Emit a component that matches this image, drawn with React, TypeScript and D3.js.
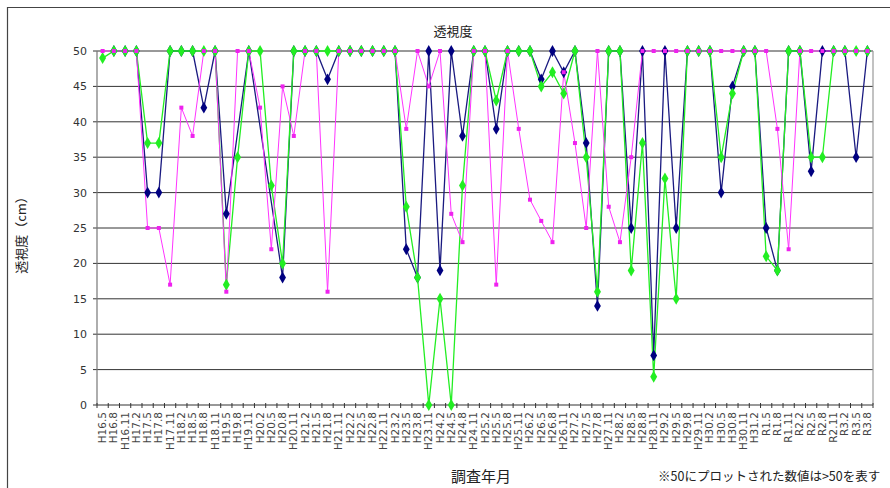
import React from "react";
import * as d3 from "d3";

const labels: string[] = [
  "H16.5","H16.8","H16.11","H17.2","H17.5","H17.8","H17.11","H18.2","H18.5","H18.8","H18.11",
  "H19.5","H19.8","H19.11","H20.2","H20.5","H20.8","H20.11","H21.2","H21.5","H21.8","H21.11",
  "H22.2","H22.5","H22.8","H22.11","H23.2","H23.5","H23.8","H23.11","H24.2","H24.5","H24.8","H24.11",
  "H25.2","H25.5","H25.8","H25.11","H26.2","H26.5","H26.8","H26.11","H27.2","H27.5","H27.8","H27.11",
  "H28.2","H28.5","H28.8","H28.11","H29.2","H29.5","H29.8","H29.11","H30.2","H30.5","H30.8","H30.11",
  "H31.2","R1.5","R1.8","R1.11","R2.2","R2.5","R2.8","R2.11","R3.2","R3.5","R3.8"
];

const navySeries: (number | null)[] = [
  null,50,50,50,30,30,50,50,50,42,50,27,null,50,null,null,18,50,50,50,46,50,50,50,50,50,50,22,18,50,
  19,50,38,50,50,39,50,50,50,46,50,47,50,37,14,50,50,25,50,7,50,25,50,50,50,30,45,50,50,25,19,50,50,33,50,50,50,35,50
];

const greenSeries: (number | null)[] = [
  49,50,50,50,37,37,50,50,50,50,50,17,35,50,50,31,20,50,50,50,50,50,50,50,50,50,50,28,18,0,
  15,0,31,50,50,43,50,50,50,45,47,44,50,35,16,50,50,19,37,4,32,15,50,50,50,35,44,50,50,21,19,50,50,35,35,50,50,50,50
];

const magentaSeries: (number | null)[] = [
  50,50,50,50,25,25,17,42,38,50,50,16,50,50,42,22,45,38,50,50,16,50,50,50,50,50,50,39,50,45,
  50,27,23,50,50,17,50,39,29,26,23,47,37,25,50,28,23,35,50,50,50,50,50,50,50,50,50,50,50,50,39,22,50,50,50,50,50,50,50
];

const yTicks: number[] = [0, 5, 10, 15, 20, 25, 30, 35, 40, 45, 50];

const W = 890;
const H = 488;
const left = 97;
const right = 873;
const top = 51;
const bottom = 405;

export default function App() {
  const idx = labels.map((_, i) => i);
  const x = d3.scaleBand<number>().domain(idx).range([left, right]).padding(0);
  const cx = (i: number) => (x(i) as number) + x.bandwidth() / 2;
  const y = d3.scaleLinear().domain([0, 50]).range([bottom, top]);

  const pts = (s: (number | null)[]) =>
    s.map((v, i) => ({ i, v })).filter((d) => d.v !== null) as { i: number; v: number }[];

  const line = d3
    .line<{ i: number; v: number }>()
    .x((d) => cx(d.i))
    .y((d) => y(d.v));

  const navy = pts(navySeries);
  const green = pts(greenSeries);
  const mag = pts(magentaSeries);

  const diamond = d3.symbol().type(d3.symbolDiamond).size(40)() as string;
  const diamondG = d3.symbol().type(d3.symbolDiamond).size(42)() as string;

  const font = "'Noto Sans CJK JP', 'Noto Sans', sans-serif";

  return (
    <svg
      width={W}
      height={H}
      style={{ position: "absolute", left: 0, top: 0, background: "#fff" }}
      fontFamily={font}
    >
      <rect x={0} y={0} width={W} height={H} fill="#fff" />
      {/* outer chart border */}
      <line x1={7.5} y1={7} x2={7.5} y2={H} stroke="#444" strokeWidth={1.2} />
      <line x1={7} y1={7.5} x2={W} y2={7.5} stroke="#444" strokeWidth={1.2} />

      {/* title */}
      <text x={453} y={36} fontSize={13} textAnchor="middle" fill="#222">透視度</text>

      {/* gridlines */}
      {yTicks.map((t) => (
        <g key={t}>
          <line x1={left - 4} x2={right} y1={y(t)} y2={y(t)} stroke="#333" strokeWidth={t === 0 ? 1.2 : 1} />
          <text x={87} y={y(t) + 4} fontSize={11} textAnchor="end" fill="#333" fontFamily="'DejaVu Sans', sans-serif">
            {t}
          </text>
        </g>
      ))}
      <line x1={left} x2={left} y1={top} y2={bottom} stroke="#777" strokeWidth={1.2} />
      <line x1={right} x2={right} y1={top} y2={bottom} stroke="#999" strokeWidth={1.2} />

      {/* x ticks */}
      {idx.concat([labels.length]).map((i) => {
        const xx = i < labels.length ? (x(i) as number) : right;
        return <line key={"t" + i} x1={xx} x2={xx} y1={bottom - 2} y2={bottom + 3} stroke="#333" strokeWidth={1} />;
      })}

      {/* x labels */}
      {labels.map((l, i) => (
        <text
          key={"l" + i}
          transform={`translate(${cx(i) + 3.5},${bottom + 7}) rotate(-90)`}
          fontSize={10.5}
          textAnchor="end"
          fill="#444"
          fontFamily="'DejaVu Sans', sans-serif"
        >
          {l}
        </text>
      ))}

      {/* series lines */}
      <path d={line(navy) as string} fill="none" stroke="#1a1a80" strokeWidth={1.3} />
      <path d={line(green) as string} fill="none" stroke="#22ee22" strokeWidth={1.3} />
      <path d={line(mag) as string} fill="none" stroke="#ff33ff" strokeWidth={1} />

      {/* markers */}
      {navy.map((d) => (
        <path key={"n" + d.i} d={diamond} transform={`translate(${cx(d.i)},${y(d.v)})`} fill="#000080" />
      ))}
      {green.map((d) => (
        <path key={"g" + d.i} d={diamondG} transform={`translate(${cx(d.i)},${y(d.v)})`} fill="#22ee22" />
      ))}
      {mag.map((d) => (
        <rect key={"m" + d.i} x={cx(d.i) - 2} y={y(d.v) - 2} width={4} height={4} fill="#ee22ee" />
      ))}

      {/* axis titles */}
      <text transform={`translate(26,232) rotate(-90)`} fontSize={13} textAnchor="middle" fill="#222">
        透視度（cm）
      </text>
      <text x={481} y={482} fontSize={15} textAnchor="middle" fill="#222">調査年月</text>
      <text x={658} y={481} fontSize={12.5} fill="#222">※50にプロットされた数値は&gt;50を表す</text>
    </svg>
  );
}
